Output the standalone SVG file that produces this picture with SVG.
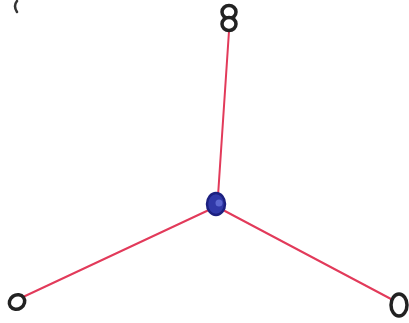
<svg xmlns="http://www.w3.org/2000/svg" width="409" height="323" viewBox="0 0 409 323">
<style>
.edge{stroke:#e23a5a;stroke-width:2;fill:none;stroke-linecap:round}
.leaf{fill:#fff;stroke:#222;stroke-width:3.5}
.hub{fill:#3038a8;stroke:#1c2080;stroke-width:2.5}
</style>
<rect width="409" height="323" fill="#fff"/>
<path d="M17 1 Q13 6 17 12" stroke="#333" stroke-width="2.5" fill="none" stroke-linecap="round"/>
<g id="connectors">
<line class="edge" x1="229" y1="31" x2="218" y2="196"/>
<line class="edge" x1="211" y1="209" x2="23" y2="297"/>
<line class="edge" x1="223" y1="210" x2="391" y2="299"/>
</g>
<g id="n-top">
<ellipse class="leaf" cx="229" cy="12" rx="7" ry="6.5"/>
<ellipse class="leaf" cx="229" cy="24" rx="7" ry="6.5"/>
</g>
<g id="n-center">
<ellipse class="hub" cx="216" cy="204" rx="9" ry="11"/>
<ellipse cx="219" cy="203" rx="3.5" ry="3.5" fill="#5b66d0"/>
</g>
<g id="n-left">
<ellipse class="leaf" cx="17" cy="302" rx="8" ry="7" transform="rotate(-35 17 302)"/>
</g>
<g id="n-right">
<ellipse class="leaf" cx="399" cy="305" rx="8" ry="11"/>
</g>
</svg>
